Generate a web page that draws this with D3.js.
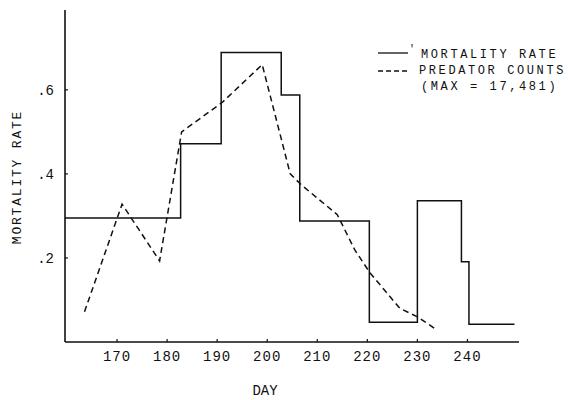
<!DOCTYPE html>
<html>
<head>
<meta charset="utf-8">
<script src="https://cdn.jsdelivr.net/npm/d3@7"></script>
<style>
  body { margin: 0; background: #fff; }
  text { font-family: "Liberation Mono", "DejaVu Sans Mono", monospace; fill: #111; }
</style>
</head>
<body>
<div id="chart"></div>
<script>
// day where each mortality step starts (last entry = end of last step)
var stepDays = [159.6, 182.7, 190.8, 202.8, 206.5, 220.4, 230, 238.8, 240.3, 249.4];
var mortality = [0.295, 0.472, 0.689, 0.588, 0.288, 0.047, 0.336, 0.191, 0.042];

// predator counts, scaled (max = 17,481)
var predDays = [163.5, 171, 178.5, 182.9, 191, 199, 204.6, 206.8, 214, 217.5, 220.5, 226.5, 230, 233.5];
var predVals = [0.072, 0.328, 0.193, 0.50, 0.57, 0.66, 0.40, 0.374, 0.303, 0.219, 0.165, 0.080, 0.060, 0.032];

var xTicks = [170, 180, 190, 200, 210, 220, 230, 240];
var yTicks = [0.2, 0.4, 0.6];
var yTickLabels = [".2", ".4", ".6"];

var legendLabels = ["MORTALITY RATE", "PREDATOR COUNTS", "(MAX = 17,481)"];

var svg = d3.select("#chart").append("svg")
    .attr("width", 568).attr("height", 400);

var x = d3.scaleLinear().domain([159.6, 250.3]).range([65, 519]);
var y = d3.scaleLinear().domain([0, 0.79]).range([342, 10]);

// axes
svg.append("line")
    .attr("x1", x(159.6)).attr("x2", x(159.6))
    .attr("y1", y(0)).attr("y2", y(0.79))
    .style("stroke", "#111").style("stroke-width", 1.6);
svg.append("line")
    .attr("x1", x(159.6)).attr("x2", x(250.3))
    .attr("y1", y(0)).attr("y2", y(0))
    .style("stroke", "#111").style("stroke-width", 1.6);

svg.selectAll(".xt").data(xTicks).enter().append("line")
    .attr("x1", function (d) { return x(d); })
    .attr("x2", function (d) { return x(d); })
    .attr("y1", y(0)).attr("y2", y(0) - 3)
    .style("stroke", "#111").style("stroke-width", 1.2);
svg.selectAll(".xl").data(xTicks).enter().append("text")
    .attr("x", function (d) { return x(d); })
    .attr("y", y(0) + 19)
    .attr("text-anchor", "middle")
    .style("font-size", "14px")
    .style("letter-spacing", "1px")
    .text(function (d) { return d; });

svg.selectAll(".yt").data(yTicks).enter().append("line")
    .attr("x1", x(159.6)).attr("x2", x(159.6) + 3)
    .attr("y1", function (d) { return y(d); })
    .attr("y2", function (d) { return y(d); })
    .style("stroke", "#111").style("stroke-width", 1.2);
svg.selectAll(".yl").data(yTicks).enter().append("text")
    .attr("x", 54)
    .attr("y", function (d) { return y(d) + 5; })
    .attr("text-anchor", "end")
    .style("font-size", "14px")
    .text(function (d, i) { return yTickLabels[i]; });

svg.append("text")
    .attr("x", 265).attr("y", 395)
    .attr("text-anchor", "middle")
    .style("font-size", "14px")
    .text("DAY");
svg.append("text")
    .attr("transform", "translate(21,177) rotate(-90)")
    .attr("text-anchor", "middle")
    .style("font-size", "13px")
    .style("letter-spacing", "1.8px")
    .text("MORTALITY RATE");

// mortality rate step line
var steps = stepDays.map(function (d, i) {
    return [d, i < mortality.length ? mortality[i] : mortality[mortality.length - 1]];
});
svg.append("path")
    .datum(steps)
    .attr("d", d3.line()
        .x(function (d) { return x(d[0]); })
        .y(function (d) { return y(d[1]); })
        .curve(d3.curveStepAfter))
    .style("fill", "none").style("stroke", "#111").style("stroke-width", 1.5);

// predator counts
svg.append("path")
    .datum(predDays.map(function (d, i) { return [d, predVals[i]]; }))
    .attr("d", d3.line()
        .x(function (d) { return x(d[0]); })
        .y(function (d) { return y(d[1]); }))
    .style("fill", "none").style("stroke", "#111").style("stroke-width", 1.5)
    .style("stroke-dasharray", "6,4");

// legend
svg.append("line")
    .attr("x1", 378).attr("x2", 408).attr("y1", 53).attr("y2", 53)
    .style("stroke", "#111").style("stroke-width", 1.3);
svg.append("line")
    .attr("x1", 378).attr("x2", 408).attr("y1", 71).attr("y2", 71)
    .style("stroke", "#111").style("stroke-width", 1.3)
    .style("stroke-dasharray", "5,3");
svg.append("text").attr("x", 409).attr("y", 52)
    .style("font-size", "10px").text("'");
svg.selectAll(".lg").data(legendLabels).enter().append("text")
    .attr("x", function (d, i) { return i == 1 ? 419 : 421; })
    .attr("y", function (d, i) { return 58 + i * 16; })
    .style("font-size", "12px")
    .style("letter-spacing", "2.6px")
    .text(function (d) { return d; });
</script>
</body>
</html>
